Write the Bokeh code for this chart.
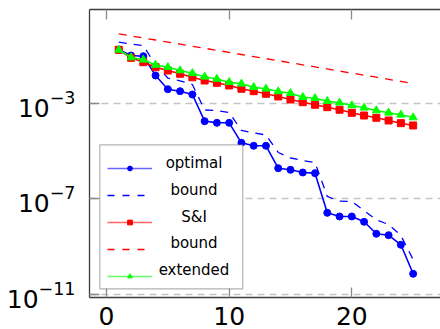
from bokeh.plotting import figure
from bokeh.models import (ColumnDataSource, FixedTicker, LinearAxis, Legend,
                          LegendItem, BoxAnnotation, Range1d, Label)
from bokeh.embed import file_html
from bokeh.resources import INLINE

# ---------------- data ----------------
iterations = list(range(1, 26))

optimal = [1.71e-1, 9.91e-2, 9.27e-2, 1.44e-2, 3.85e-3, 3.18e-3, 2.31e-3,
           1.77e-4, 1.51e-4, 1.51e-4, 2.20e-5, 1.65e-5, 1.65e-5, 1.91e-6,
           1.63e-6, 1.26e-6, 1.18e-6, 2.59e-8, 1.82e-8, 1.82e-8, 1.09e-8,
           3.44e-9, 3.00e-9, 1.19e-9, 7.28e-11]

optimal_bound = [3.56e-1, 3.00e-1, 2.59e-1, 3.89e-2, 1.13e-2, 8.65e-3, 6.05e-3,
                 5.19e-4, 4.95e-4, 4.08e-4, 7.21e-5, 5.78e-5, 4.67e-5, 8.65e-6,
                 5.09e-6, 4.01e-6, 3.30e-6, 1.25e-7, 7.94e-8, 7.71e-8, 3.24e-8,
                 1.30e-8, 8.41e-9, 2.91e-9, 2.88e-10]

si = [1.71e-1, 7.94e-2, 5.19e-2, 3.21e-2, 2.33e-2, 1.70e-2, 1.22e-2,
      8.91e-3, 7.14e-3, 5.51e-3, 4.01e-3, 3.18e-3, 2.47e-3, 1.91e-3,
      1.43e-3, 1.10e-3, 8.57e-4, 6.81e-4, 5.30e-4, 3.96e-4, 3.05e-4,
      2.45e-4, 1.89e-4, 1.46e-4, 1.17e-4]

si_bound = [8.02e-1, 6.56e-1, 5.37e-1, 4.41e-1, 3.61e-1, 2.96e-1, 2.42e-1,
            1.99e-1, 1.63e-1, 1.33e-1, 1.09e-1, 8.93e-2, 7.33e-2, 6.00e-2,
            4.92e-2, 4.03e-2, 3.30e-2, 2.70e-2, 2.21e-2, 1.82e-2, 1.49e-2,
            1.22e-2, 9.98e-3, 8.17e-3, 6.70e-3]

extended = [1.71e-1, 8.17e-2, 6.55e-2, 3.98e-2, 3.21e-2, 2.33e-2, 1.78e-2,
            1.27e-2, 1.03e-2, 7.57e-3, 6.49e-3, 4.67e-3, 4.01e-3, 3.09e-3,
            2.62e-3, 1.78e-3, 1.62e-3, 1.21e-3, 1.04e-3, 8.02e-4, 6.43e-4,
            4.95e-4, 3.96e-4, 3.27e-4, 2.52e-4]

x_ticks = [0, 10, 20]
y_ticks = [1e-11, 1e-7, 1e-3]
legend_labels = ["optimal", "bound", "S&I", "bound", "extended"]

# ---------------- styling ----------------
BLUE, RED, GREEN = "#0000ff", "#ff0000", "#00ff00"
FRAME = "#3c3c3c"
TICK = "#8c8c8c"
FONT_TICK = "DejaVu Sans"
FONT_LEG = "DejaVu Sans"

p = figure(frame_width=351, frame_height=288, y_axis_type="log",
           x_range=Range1d(-1.386, 27.23), y_range=Range1d(7.41e-12, 8.32),
           output_backend="svg", toolbar_location=None,
           min_border_left=89, min_border_right=0, min_border_top=9,
           min_border_bottom=32)
p.outline_line_color = None
p.background_fill_color = "white"
p.border_fill_color = "white"


def style_axis(ax):
    ax.axis_line_color = FRAME
    ax.axis_line_width = 1.3
    ax.major_tick_in = 10
    ax.major_tick_out = 0
    ax.major_tick_line_color = TICK
    ax.major_tick_line_width = 1.3
    ax.minor_tick_line_color = None
    ax.major_label_text_font = FONT_TICK
    ax.major_label_text_font_size = "25px"
    ax.major_label_text_color = "black"


xa = p.xaxis[0]
style_axis(xa)
xa.ticker = FixedTicker(ticks=x_ticks)
xa.major_label_standoff = 9

ya = p.yaxis[0]
style_axis(ya)
ya.ticker = FixedTicker(ticks=y_ticks)
ya.major_label_standoff = 14

top = LinearAxis(ticker=FixedTicker(ticks=x_ticks))
style_axis(top)
top.major_label_text_font_size = "1px"
top.major_label_text_alpha = 0
top.major_label_standoff = 0
p.add_layout(top, "above")

p.xgrid.grid_line_color = None
p.ygrid.ticker = FixedTicker(ticks=y_ticks)
p.ygrid.grid_line_color = "#c4c4c4"
p.ygrid.grid_line_dash = "7 5"
p.ygrid.grid_line_width = 1.3

src = ColumnDataSource(dict(x=iterations, optimal=optimal, optimal_bound=optimal_bound,
                            si=si, si_bound=si_bound, extended=extended))

p.line("x", "optimal", source=src, line_color=BLUE, line_width=1.6)
p.scatter("x", "optimal", source=src, marker="circle", size=7, color=BLUE)
p.line("x", "optimal_bound", source=src, line_color=BLUE, line_width=1.3, line_dash="8 7")
p.line("x", "si", source=src, line_color=RED, line_width=1.6)
p.scatter("x", "si", source=src, marker="square", size=7, color=RED)
p.line("x", "si_bound", source=src, line_color=RED, line_width=1.3, line_dash="8 7")
p.line("x", "extended", source=src, line_color=GREEN, line_width=1.6)
p.scatter("x", "extended", source=src, marker="triangle", size=8, color=GREEN)

# legend-only renderers (a single NaN row: nothing is drawn in the plot)
nan = float("nan")
leg_src = ColumnDataSource(dict(x=[nan], y=[nan]))
l1a = p.line("x", "y", source=leg_src, line_color=BLUE, line_alpha=0.6, line_width=1.6)
l1b = p.scatter("x", "y", source=leg_src, marker="circle", size=5, color=BLUE)
l2 = p.line("x", "y", source=leg_src, line_color=BLUE, line_width=1.3, line_dash="7 8")
l3a = p.line("x", "y", source=leg_src, line_color=RED, line_alpha=0.6, line_width=1.6)
l3b = p.scatter("x", "y", source=leg_src, marker="square", size=5, color=RED)
l4 = p.line("x", "y", source=leg_src, line_color=RED, line_width=1.3, line_dash="7 8")
l5a = p.line("x", "y", source=leg_src, line_color=GREEN, line_alpha=0.6, line_width=1.6)
l5b = p.scatter("x", "y", source=leg_src, marker="triangle", size=5, color=GREEN)

box = BoxAnnotation(left=10.3, right=153.3, bottom=8.7, top=152.7,
                    left_units="screen", right_units="screen",
                    bottom_units="screen", top_units="screen",
                    fill_color="white", fill_alpha=1.0,
                    line_color="black", line_width=1.2)
p.add_layout(box)

legend = Legend(items=[
    LegendItem(label="", renderers=[l1a, l1b]),
    LegendItem(label="", renderers=[l2]),
    LegendItem(label="", renderers=[l3a, l3b]),
    LegendItem(label="", renderers=[l4]),
    LegendItem(label="", renderers=[l5a, l5b]),
], location=(18.0, 11.2), glyph_width=45, glyph_height=12, label_height=20,
   spacing=7, padding=9, margin=0, label_standoff=10, label_width=10,
   border_line_color=None, background_fill_alpha=0)
p.add_layout(legend, "center")

label_y = [134.7, 108.0, 81.0, 54.7, 27.7]
for txt, yy in zip(legend_labels, label_y):
    p.add_layout(Label(x=104.5, y=yy, x_units="screen", y_units="screen",
                       text=txt, text_align="center", text_baseline="middle",
                       text_font=FONT_LEG, text_font_size="15px",
                       text_color="black"))

open("out.html", "w").write(file_html(p, INLINE))
